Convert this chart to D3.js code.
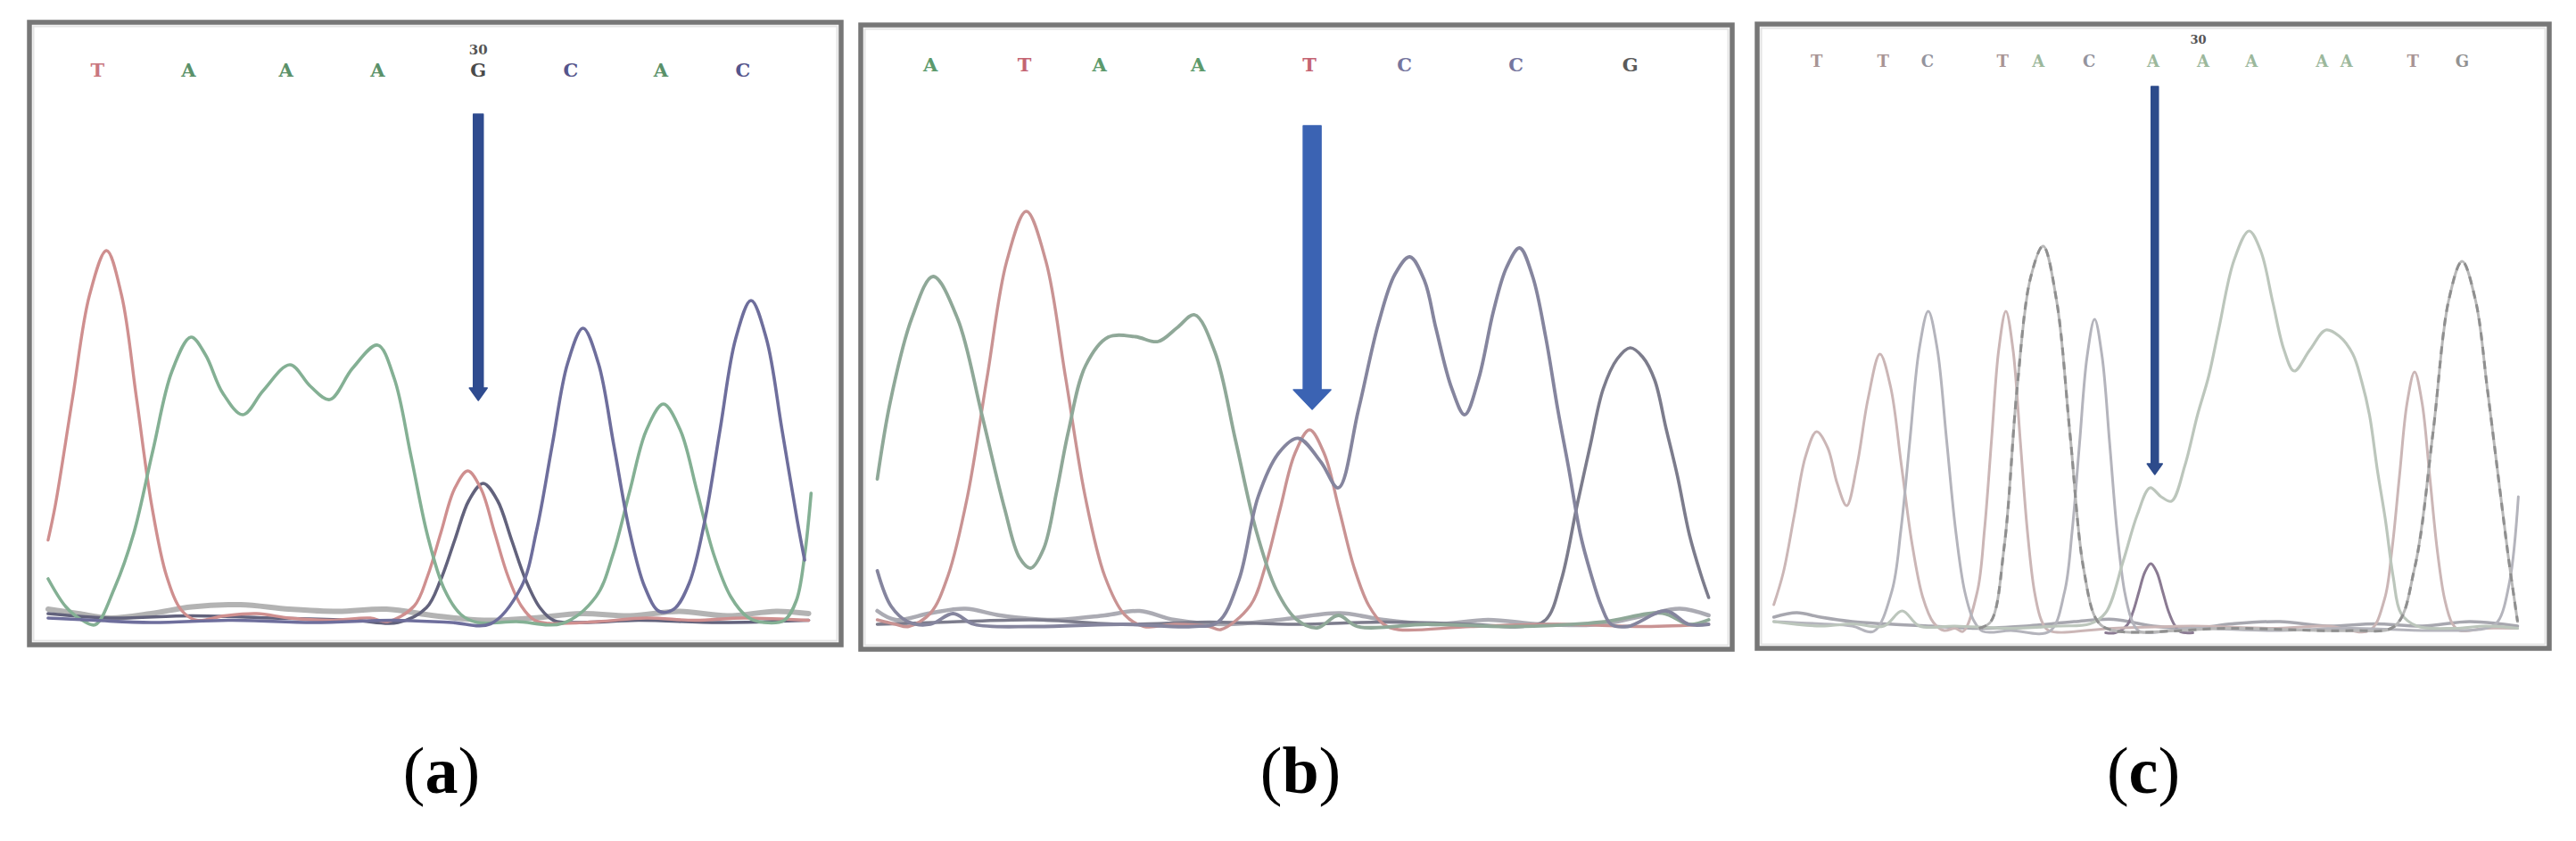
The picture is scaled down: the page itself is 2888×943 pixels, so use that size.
<!DOCTYPE html>
<html><head><meta charset="utf-8">
<script src="https://cdn.jsdelivr.net/npm/d3@7"></script>
<style>html,body{margin:0;padding:0;background:#fff}</style>
</head><body>
<svg id="chart" width="2888" height="943"></svg>
<script>
// ================= DATA (x = % of panel width, y = signal intensity) =================
const panelLabels = ["a", "b", "c"];

// base calls
const basesA = ["T","A","A","A","G","C","A","C"];
const basePosA = [8.4,19.6,31.6,42.9,55.3,66.7,77.8,87.9];
const basesB = ["A","T","A","A","T","C","C","G"];
const basePosB = [8.0,18.8,27.4,38.7,51.5,62.4,75.2,88.3];
const basesC = ["T","T","C","T","A","C","A","A","A","A","A","T","G"];
const basePosC = [7.5,15.9,21.5,31.0,35.5,41.9,50.0,56.3,62.4,71.3,74.4,82.8,89.0];

// position numbers above the base row
const markerTextA = "30", markerPosA = 55.3;
const markerTextC = "30", markerPosC = 55.7;

// arrows: [x, from intensity, to intensity]
const arrowA = [55.3, 115, 50.8];
const arrowB = [51.8, 113.8, 50.2];
const arrowC = [50.2, 123, 36];

// ---- panel (a) traces
const a_T = [[2.3,19.5],[3.2,27.4],[5.3,51.2],[7.4,74.4],[9.5,84.4],[11.35,74.4],[13.2,51.2],[15.05,27.4],[16.9,11.4],[18.75,3.7],[20.6,1.5],[24,2.5],[28,3],[32,2],[37,1.5],[42,2],[44.1,1.2],[47.4,4.7],[49.05,11.4],[50.7,21.2],[52.35,30.9],[54,35],[55.65,30.9],[57.3,21.2],[58.95,11.4],[60.6,4.7],[62.25,1.5],[64,0.8],[70,1.2],[76,2],[82,1.5],[88,2],[96,1.5]];
const a_A = [[2.3,10.8],[4.5,4.5],[6.5,1.5],[8.1,0.5],[10.5,8.8],[12.85,21],[15.2,39.5],[17.55,57.3],[19.9,65],[21.7,61],[23.8,52.5],[26.3,47.6],[28.8,53],[32.1,58.8],[34.6,54],[37,51],[39.8,58],[42.9,63.2],[44.95,55.7],[47,38.4],[49.05,20.5],[51.1,8.5],[53.15,2.8],[55.2,1],[60,1.2],[65.65,0.8],[69.8,6.8],[71.9,16.3],[73.95,30.4],[76,44.1],[78.1,50],[80.2,44.1],[82.25,30.4],[84.3,16.3],[86.4,6.8],[88.5,2.2],[90.5,1],[93,1.5],[94.5,6],[95.5,16],[96.3,30]];
const a_C = [[2.3,2],[8,1.5],[15,1],[25,1.5],[35,1],[45,1.5],[52,1],[56.8,0.7],[60.6,9],[62.5,21.8],[64.4,40.7],[66.3,59.1],[68.2,67],[70.1,59.1],[72,40.7],[73.9,21.8],[75.8,9],[77.6,3.5],[79.4,4],[81.3,9.9],[83.2,23.8],[85.1,44.4],[87,64.6],[88.9,73.2],[90.8,64.6],[92.7,44.4],[94.6,23.8],[95.5,15]];
const a_G = [[2.3,3],[10,2],[20,2.5],[30,2],[40,1.5],[45.4,1],[48.9,4.3],[50.65,10.5],[52.4,19.5],[54.15,28.4],[55.9,32.2],[57.65,28.4],[59.4,19.5],[61.15,10.5],[62.9,4.3],[64.65,1.4],[68,1],[75,1.5],[85,1],[96,1.5]];
const a_noise = [[2.3,4],[6,3],[10,2],[15,3],[20,4.5],[26,5],[32,4],[38,3.5],[44,4],[50,2.5],[56,1.5],[62,2],[68,3],[74,2.5],[80,3.5],[86,2.5],[92,3.5],[96,3]];

// ---- panel (b) traces
const b_A = [[1.9,34.6],[3.4,52],[5.85,70.6],[8.3,80],[11.1,70.6],[13.9,49],[16.5,28],[18.2,17],[19.5,14.6],[21,19],[22.5,32],[23.8,45],[25.8,60],[28.4,66.4],[31.5,66.5],[34.1,65.4],[36.3,68.5],[38.3,71.4],[40.65,63],[43,43.3],[45.35,23.2],[47.7,9.7],[50,3.1],[52.4,1.2],[54.8,4],[57,1.5],[65,2],[75,1.5],[85,2.5],[92,4.5],[95,2],[97.3,3]];
const b_T = [[1.9,3],[4,2],[5.5,1.5],[8,4.5],[10,12.8],[12.25,30.7],[14.5,57.4],[16.75,83.4],[19,94.6],[21.25,83.4],[23.5,57.4],[25.75,30.7],[28,12.8],[30.25,4.2],[32.5,1.5],[36,2],[40,1.5],[41.3,0.8],[44.7,6.2],[46.4,14.8],[48.1,27.7],[49.8,40.2],[51.5,45.6],[53.2,40.2],[54.9,27.7],[56.6,14.8],[58.3,6.2],[60,2],[61.7,0.8],[70,1.5],[80,2],[90,1.5],[97.3,2]];
const b_C = [[1.9,14],[3.5,6],[5.5,2.5],[8,2],[10.6,4.4],[13,2],[20,1.5],[30,2],[38,1.5],[41,2.5],[43.4,12],[45.6,30.6],[48,40.5],[50.2,43.7],[52.8,38.4],[54.8,32.6],[57.1,50],[59.4,69.4],[61.3,80.5],[63,84.4],[64.7,79],[66,68.4],[67.8,55],[69.3,49],[70.9,57],[72.6,72.2],[74.1,82],[75.6,86.4],[77.1,80],[78.6,66.4],[80,50],[81.2,37.4],[82.6,22],[83.8,13.2],[85,6],[86.1,2],[88,1.5],[92.4,5],[95,2],[97.3,2]];
const b_G = [[1.9,2],[10,2.5],[20,3],[30,2],[40,2.5],[50,2],[60,2.5],[70,2],[76,1.5],[78.6,3],[80.4,12],[82.2,28.7],[83.7,42],[85.2,54.8],[86.8,61.5],[88.3,64],[89.7,62],[91.1,56.8],[92.4,46],[93.7,35.4],[95.1,22],[96.4,13.2],[97.3,8]];
const b_noise = [[1.9,5],[4,3],[8,4.5],[12,5.5],[16,4],[22,3],[28,4],[32,5],[36,3],[42,2],[48,3],[55,4.5],[60,3],[66,2],[72,3],[78,2],[85,2],[90,4],[94,5.5],[97.3,4]];

// ---- panel (c) traces
const c_T = [[2.1,6.8],[3.3,14],[4.7,27],[6.1,40],[7.5,45.6],[8.9,42],[10.1,34],[11.3,29],[12.6,38],[14,53],[15.5,63],[16.85,55.6],[18.2,38.2],[19.55,20.5],[20.9,8.5],[22.25,2.8],[23.6,1],[25,1.5],[26,0.8],[27.8,9.8],[28.7,23.6],[29.6,44],[30.5,64],[31.4,72.6],[32.3,64],[33.2,44],[34.1,23.6],[35,9.8],[35.9,3.2],[36.8,1],[45,1.5],[55,2],[65,1.5],[72,2],[77.3,1],[79.2,8],[80.15,19.2],[81.1,35.8],[82.05,52],[83,59],[83.95,52],[84.9,35.8],[85.85,19.2],[86.8,8],[87.75,2.6],[88.7,1],[92,1.5],[96,1.5]];
const c_C = [[2.1,3],[8,2.5],[12,2],[14.7,0.8],[17,9.8],[18.15,23.6],[19.3,44],[20.45,64],[21.6,72.6],[22.75,64],[23.9,44],[25.05,23.6],[26.2,9.8],[27.35,3.2],[28.5,0.8],[32,1],[36.9,0.8],[38.8,9.6],[39.75,23],[40.7,43],[41.65,62.4],[42.6,70.8],[43.55,62.4],[44.5,43],[45.45,23],[46.4,9.6],[47.35,3.1],[48.3,0.8],[55,1.5],[65,1],[75,1.5],[85,1],[92,1.5],[93.5,3],[95,12],[96.1,31]];
const c_A = [[2.1,3],[8,2],[12,2.5],[16,2],[18.3,5.4],[20.5,2],[25,2],[32,1.5],[38,2],[42,2.5],[44,5],[46.2,16.5],[48,27],[49.6,33],[51,31],[52.3,30],[54,38],[55.6,49.4],[57,58],[58.3,68.8],[60.2,84],[62.1,90.6],[63.6,86],[65.1,74.6],[66.5,64],[67.8,59.2],[69.8,64],[71.8,68.4],[73.5,67],[75.2,63],[76.3,57],[77.3,49.4],[78.3,37],[79.3,26],[80.3,13],[81.3,4.8],[83.3,2],[88,1.5],[92,2],[96,1.5]];
const c_G = [[28,1.5],[29.5,3],[31.2,20],[32.8,55],[34.5,80],[36.1,87.2],[37.8,75],[39.5,45],[41.2,15],[43,3],[45,1],[60,1.5],[75,1],[80.5,2],[83,15],[85.3,45],[87.3,75],[89,83.8],[90.7,75],[92.2,55],[93.6,35],[94.8,18],[96,3]];
const c_N = [[44,0.5],[45.2,0.5],[46.7,2.2],[47.45,5.2],[48.2,9.7],[48.95,14.1],[49.7,16],[50.45,14.1],[51.2,9.7],[51.95,5.2],[52.7,2.2],[53.45,0.7],[55,0.5]];
const c_noise = [[2.1,4],[5,5],[8,4],[12,3],[16,2.5],[22,2],[28,1.5],[34,2],[40,3],[45,3.5],[50,2],[55,1.5],[60,2.5],[66,3],[72,2],[78,2.5],[84,2],[90,3],[96,2]];

// ================= LAYOUT & STYLE =================
const panels = [
  { box:[33,25,943,723], baseline:703, letterY:86, fontSize:21, markerY:61, markerSize:15, captionX:495,
    bases:basesA, basePos:basePosA, marker:[markerTextA, markerPosA], arrow:arrowA,
    arrowStyle:{shaft:11, head:20, headLen:14, color:"#2f4b8f"},
    letterColors:{T:"#c9777f", A:"#5a9169", G:"#4a4a4a", C:"#55558c"},
    traces:[
      {d:a_noise, c:"#9a9a9a", w:6, o:0.75},
      {d:a_G, c:"#62627c", w:3.6},
      {d:a_T, c:"#cf8f8f", w:3.4},
      {d:a_A, c:"#84b094", w:3.6},
      {d:a_C, c:"#6e6e9c", w:3.6}
    ]},
  { box:[965,28,1942,728], baseline:710, letterY:80, fontSize:21, captionX:1458,
    bases:basesB, basePos:basePosB, marker:null, arrow:arrowB,
    arrowStyle:{shaft:20, head:42, headLen:22, color:"#3b63b3"},
    letterColors:{T:"#c46472", A:"#5c9a6c", G:"#5a5a5a", C:"#76769e"},
    traces:[
      {d:b_noise, c:"#8f8f9a", w:4.5, o:0.75},
      {d:b_G, c:"#7c7c8c", w:3.6},
      {d:b_T, c:"#c99393", w:3.4},
      {d:b_A, c:"#8fa898", w:3.8},
      {d:b_C, c:"#85859e", w:3.8}
    ]},
  { box:[1970,27,2858,727], baseline:712, letterY:75, fontSize:18, markerY:49, markerSize:13, captionX:2403,
    bases:basesC, basePos:basePosC, marker:[markerTextC, markerPosC], arrow:arrowC,
    arrowStyle:{shaft:8, head:17, headLen:12, color:"#2d4b8b"},
    letterColors:{T:"#a89494", A:"#9cb89c", G:"#929292", C:"#94949e"},
    traces:[
      {d:c_noise, c:"#8a8a94", w:3.5, o:0.75},
      {d:c_N, c:"#8a7a92", w:3},
      {d:c_T, c:"#cbb6b6", w:3},
      {d:c_C, c:"#b4b4bc", w:3},
      {d:c_A, c:"#bcc6bc", w:3.2},
      {d:c_G, c:"#b8b8b8", w:3, dash:"9,7", dashColor:"#8f8f8f"}
    ]}
];

// ================= DRAW =================
const svg = d3.select("#chart");
svg.append("rect").attr("width",2888).attr("height",943).attr("fill","#fff");

panels.forEach((p, i) => {
  const [x0,y0,x1,y1] = p.box;
  const x = d3.scaleLinear().domain([0,100]).range([x0, x1]);
  const y = d3.scaleLinear().domain([0,100]).range([p.baseline, p.baseline - 500]);
  const g = svg.append("g");

  // frame
  g.append("rect").attr("x",x0).attr("y",y0).attr("width",x1-x0).attr("height",y1-y0)
    .attr("fill","#fff").attr("stroke","#777").attr("stroke-width",5.5);
  g.append("rect").attr("x",x0+4.5).attr("y",y0+4.5).attr("width",x1-x0-9).attr("height",y1-y0-9)
    .attr("fill","none").attr("stroke","#e4e4e4").attr("stroke-width",2);

  const line = d3.line().x(d => x(d[0])).y(d => y(d[1])).curve(d3.curveCatmullRom.alpha(0.5));

  p.traces.forEach(t => {
    g.append("path").attr("d", line(t.d)).attr("fill","none")
      .attr("stroke", t.c).attr("stroke-width", t.w)
      .attr("stroke-opacity", t.o || 1)
      .attr("stroke-linejoin","round").attr("stroke-linecap","round");
    if (t.dash) {
      g.append("path").attr("d", line(t.d)).attr("fill","none")
        .attr("stroke", t.dashColor).attr("stroke-width", t.w)
        .attr("stroke-dasharray", t.dash);
    }
  });

  // base letters
  g.selectAll("text.base").data(p.bases).join("text")
    .attr("class","base")
    .attr("x", (d,k) => x(p.basePos[k]))
    .attr("y", p.letterY)
    .attr("text-anchor","middle")
    .attr("font-family","'DejaVu Serif', serif")
    .attr("font-weight","bold")
    .attr("font-size", p.fontSize)
    .attr("fill", d => p.letterColors[d])
    .text(d => d);

  if (p.marker) {
    g.append("text").attr("x", x(p.marker[1])).attr("y", p.markerY)
      .attr("text-anchor","middle").attr("font-family","'DejaVu Serif', serif")
      .attr("font-weight","bold").attr("font-size", p.markerSize).attr("fill","#555")
      .text(p.marker[0]);
  }

  // arrow
  const a = p.arrow, s = p.arrowStyle;
  const ax = x(a[0]), ayTop = y(a[1]), ayTip = y(a[2]);
  const hy = ayTip - s.headLen;
  const path = d3.path();
  path.moveTo(ax - s.shaft/2, ayTop);
  path.lineTo(ax + s.shaft/2, ayTop);
  path.lineTo(ax + s.shaft/2, hy);
  path.lineTo(ax + s.head/2, hy);
  path.lineTo(ax, ayTip);
  path.lineTo(ax - s.head/2, hy);
  path.lineTo(ax - s.shaft/2, hy);
  path.closePath();
  g.append("path").attr("d", path.toString()).attr("fill", s.color)
    .attr("stroke", s.color).attr("stroke-width",1.5).attr("stroke-linejoin","round");

  // caption
  const cap = svg.append("text").attr("x", p.captionX).attr("y", 889)
    .attr("text-anchor","middle").attr("font-family","'Liberation Serif', serif")
    .attr("font-size", 74).attr("fill","#000");
  cap.append("tspan").text("(");
  cap.append("tspan").attr("font-weight","bold").text(panelLabels[i]);
  cap.append("tspan").text(")");
});
</script>
</body></html>
